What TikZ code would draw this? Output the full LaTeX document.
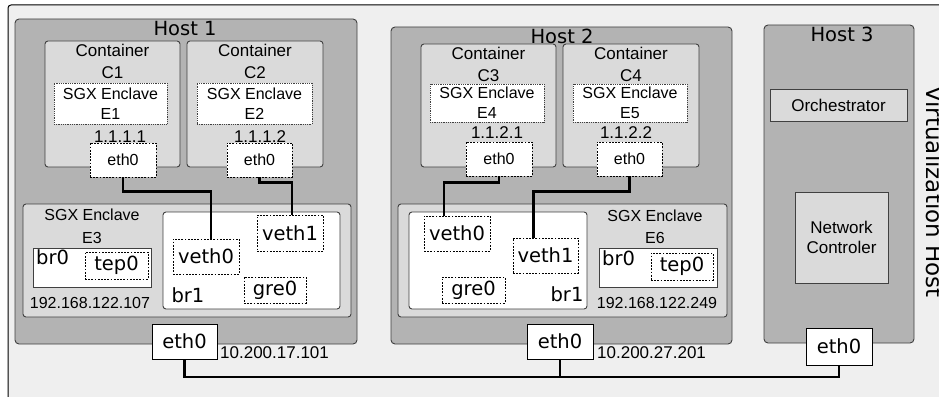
\documentclass[tikz,border=0pt]{standalone}
\usepackage{fontspec}
\setmainfont{Liberation Sans}
\newfontfamily\dvs{DejaVu Sans}
\usetikzlibrary{fit,calc}
\definecolor{outerbg}{HTML}{EFEFEF}
\definecolor{hostbg}{HTML}{B3B3B3}
\definecolor{contbg}{HTML}{DADADA}
\definecolor{edge}{HTML}{404040}
\tikzset{
  corners/.style={fit={#1}, inner sep=0pt},
  hostbox/.style={draw=edge, fill=hostbg, line width=0.9pt, rounded corners=4pt},
  contbox/.style={draw=edge, fill=contbg, line width=0.9pt, rounded corners=3pt},
  sgxbox/.style={draw=edge, fill=white, densely dotted, line width=0.8pt},
  ifbox/.style={draw=black, fill=white, dash pattern=on 1.8pt off 1.4pt, line width=0.9pt},
  plainbox/.style={draw=edge, fill=white, line width=0.9pt},
  brbox/.style={draw=edge, fill=white, line width=0.9pt, rounded corners=3pt},
  greybox/.style={draw=edge, fill=contbg, line width=0.9pt},
  ethbox/.style={draw=black, fill=white, line width=1pt},
  wire/.style={draw=black, line width=2.8pt},
  ar/.style={font=\fontsize{17}{20}\selectfont, inner sep=0pt, align=center},
  arsm/.style={font=\fontsize{16}{20}\selectfont, inner sep=0pt, align=center},
  dv/.style={font=\dvs\fontsize{19.5}{22}\selectfont, inner sep=0pt},
}
\begin{document}
\begin{tikzpicture}[x=1pt,y=-1pt]
\useasboundingbox (0,0) rectangle (939,396);
\fill[white] (0,0) rectangle (939,396);
\draw[fill=outerbg, line width=1pt, rounded corners=3pt] (8,5) rectangle (950,410);

% ---------------- Host 1 ----------------
\node[corners={(15,19) (357,344)}, hostbox] (host1) {};
\node[dv] (h1t) at (185,29) {Host 1};
\node[corners={(45,41) (180,167)}, contbox] (c1) {};
\node[ar] (c1t) at (112.5,50) {Container};
\node[ar] (c1n) at (112.5,73) {C1};
\node[corners={(54,83) (167,124)}, sgxbox] (e1) {};
\node[arsm] (e1t) at (e1.center) {SGX Enclave\\E1};
\node[corners={(187,41) (323,167)}, contbox] (c2) {};
\node[ar] (c2t) at (255,50) {Container};
\node[ar] (c2n) at (255,73) {C2};
\node[corners={(197,83) (312,124)}, sgxbox] (e2) {};
\node[arsm] (e2t) at (e2.center) {SGX Enclave\\E2};
\node[ar] (ip1) at (120,137) {1.1.1.1};
\node[ar] (ip2) at (260,137) {1.1.1.2};
\node[corners={(90,143) (156,177)}, ifbox] (c1eth) {};
\node[arsm] at (c1eth.center) {eth0};
\node[corners={(227,143) (292,177)}, ifbox] (c2eth) {};
\node[arsm] at (c2eth.center) {eth0};

\node[corners={(23,204) (351,317)}, contbox] (e3) {};
\node[arsm] (e3t) at (92,215) {SGX Enclave};
\node[arsm] (e3n) at (92,238) {E3};
\node[corners={(33,248) (151,287)}, plainbox] (h1br0) {};
\node[dv, anchor=west] (h1br0t) at (36,257) {br0};
\node[corners={(85,252) (148,279)}, ifbox] (h1tep) {};
\node[dv] at (h1tep.center) {tep0};
\node[arsm] (h1ip) at (90,303) {192.168.122.107};
\node[corners={(163,212) (340,309)}, brbox] (h1br1) {};
\node[corners={(173,239) (239,274)}, ifbox] (h1v0) {};
\node[dv] at (h1v0.center) {veth0};
\node[corners={(257,215) (323,251)}, ifbox] (h1v1) {};
\node[dv] at (h1v1.center) {veth1};
\node[corners={(244,277) (306,303)}, ifbox] (h1gre) {};
\node[dv] at (h1gre.center) {gre0};
\node[dv] (h1br1t) at (188,295) {br1};

% ---------------- Host 2 ----------------
\node[corners={(391,27) (732,344)}, hostbox] (host2) {};
\node[dv] (h2t) at (562,36) {Host 2};
\node[corners={(421,44) (556,167)}, contbox] (c3) {};
\node[ar] (c3t) at (488.5,53) {Container};
\node[ar] (c3n) at (488.5,76) {C3};
\node[corners={(430,84) (544,122)}, sgxbox] (e4) {};
\node[arsm] (e4t) at (e4.center) {SGX Enclave\\E4};
\node[corners={(563,44) (699,167)}, contbox] (c4) {};
\node[ar] (c4t) at (631,53) {Container};
\node[ar] (c4n) at (631,76) {C4};
\node[corners={(573,84) (687,122)}, sgxbox] (e5) {};
\node[arsm] (e5t) at (e5.center) {SGX Enclave\\E5};
\node[ar] (ip3) at (497,133) {1.1.2.1};
\node[ar] (ip4) at (626,133) {1.1.2.2};
\node[corners={(466,142) (532,176)}, ifbox] (c3eth) {};
\node[arsm] at (c3eth.center) {eth0};
\node[corners={(597,142) (662,176)}, ifbox] (c4eth) {};
\node[arsm] at (c4eth.center) {eth0};

\node[corners={(398,204) (727,317)}, contbox] (e6) {};
\node[corners={(409,212) (587,309)}, brbox] (h2br1) {};
\node[corners={(424,216) (490,251)}, ifbox] (h2v0) {};
\node[dv] at (h2v0.center) {veth0};
\node[corners={(513,238) (578,273)}, ifbox] (h2v1) {};
\node[dv] at (h2v1.center) {veth1};
\node[corners={(442,277) (505,303)}, ifbox] (h2gre) {};
\node[dv] at (h2gre.center) {gre0};
\node[dv] (h2br1t) at (567,294) {br1};
\node[arsm] (e6t) at (655,216) {SGX Enclave};
\node[arsm] (e6n) at (655,238) {E6};
\node[corners={(599,248) (717,287)}, plainbox] (h2br0) {};
\node[dv, anchor=west] (h2br0t) at (602,258) {br0};
\node[corners={(651,253) (713,280)}, ifbox] (h2tep) {};
\node[dv] at (h2tep.center) {tep0};
\node[arsm] (h2ip) at (657,303) {192.168.122.249};

% ---------------- Host 3 ----------------
\node[corners={(764,25) (914,343)}, hostbox] (host3) {};
\node[dv] (h3t) at (842,34) {Host 3};
\node[corners={(770,89) (907,121)}, greybox] (orch) {};
\node[ar] at (orch.center) {Orchestrator};
\node[corners={(795,192) (888,283)}, greybox] (nc) {};
\node[ar] at (nc.center) {Network\\Controler};

\node[dv, rotate=-90, font=\dvs\fontsize{23}{26}\selectfont] (virt) at (935,192) {Virtualization Host};

% ---------------- wires (container to bridge) ----------------
\draw[wire] (c1eth.south) -- ++(0,14) -| ([xshift=5pt]h1v0.north);
\draw[wire] (c2eth.south) -- ++(0,5) -| ([xshift=2pt]h1v1.north);
\draw[wire] (c3eth.south) -- ++(0,6) -| ([xshift=-13pt]h2v0.north);
\draw[wire] (c4eth.south) -- ++(0,15) -| ([xshift=-12pt]h2v1.north);

% ---------------- host NICs and bus ----------------
\node[corners={(152,324) (217,359)}, ethbox] (h1eth) {};
\node[dv] at (h1eth.center) {eth0};
\node[ar, anchor=west] (h1pub) at (220,353) {10.200.17.101};
\node[corners={(527,324) (593,359)}, ethbox] (h2eth) {};
\node[dv] at (h2eth.center) {eth0};
\node[ar, anchor=west] (h2pub) at (597,353) {10.200.27.201};
\node[corners={(806,328) (872,365)}, ethbox] (h3eth) {};
\node[dv] at (h3eth.center) {eth0};

\coordinate (bus) at (0,377);
\draw[wire] (h1eth.south) |- (bus -| h3eth.south) -- (h3eth.south);
\draw[wire] (h2eth.south) -- (h2eth.south |- bus);
\end{tikzpicture}
\end{document}
